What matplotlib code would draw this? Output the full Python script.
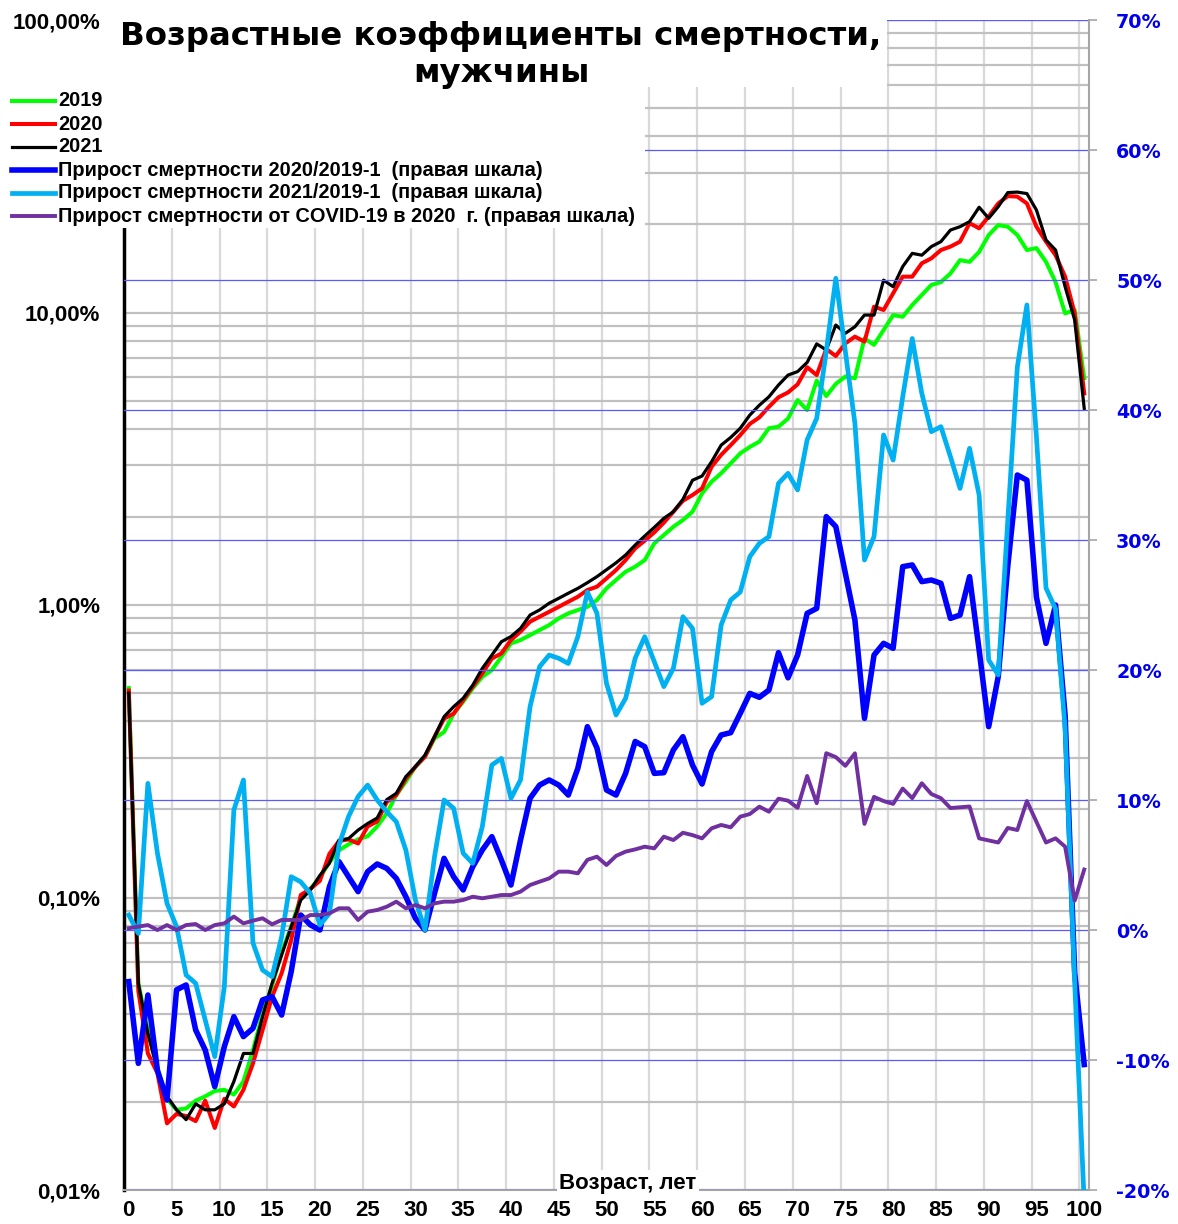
import numpy as np
import matplotlib
import matplotlib.pyplot as plt
from matplotlib.lines import Line2D
from matplotlib.patches import Rectangle
from matplotlib.ticker import LogLocator, FuncFormatter, NullFormatter

matplotlib.use('Agg')

plt.rcParams['font.family'] = ['Liberation Sans', 'DejaVu Sans']
plt.rcParams['font.weight'] = 'bold'

# Age 0..100
ages = np.arange(0, 101)

# Mortality rates, % (left log scale)
mort_2019 = [
    0.52, 0.051, 0.035, 0.026, 0.0205, 0.0188, 0.0190, 0.0202, 0.0209, 0.0218,
    0.0220, 0.0212, 0.0235, 0.0301, 0.040, 0.050, 0.065, 0.0795, 0.100, 0.107,
    0.117, 0.132, 0.145, 0.152, 0.158, 0.162, 0.175, 0.194, 0.224, 0.249,
    0.280, 0.303, 0.350, 0.368, 0.425, 0.467, 0.519, 0.568, 0.599, 0.665,
    0.739, 0.759, 0.789, 0.821, 0.854, 0.900, 0.936, 0.961, 0.986, 1.040,
    1.14, 1.218, 1.299, 1.352, 1.424, 1.624, 1.734, 1.851, 1.952, 2.084,
    2.408, 2.64, 2.82, 3.05, 3.30, 3.47, 3.62, 4.02, 4.07, 4.34,
    5.02, 4.64, 5.85, 5.18, 5.7, 6.04, 5.96, 8.16, 7.75, 8.71,
    9.80, 9.67, 10.6, 11.48, 12.42, 12.7, 13.6, 15.1, 14.9, 16.1,
    18.4, 19.9, 19.65, 18.4, 16.35, 16.6, 14.9, 12.7, 9.93, 10.2,
    5.96]

mort_2020 = [
    0.51, 0.048, 0.0293, 0.0251, 0.0169, 0.0182, 0.0179, 0.0172, 0.0202, 0.0163,
    0.0205, 0.0193, 0.022, 0.0271, 0.0352, 0.0458, 0.0551, 0.0716, 0.102, 0.107,
    0.114, 0.141, 0.156, 0.158, 0.153, 0.175, 0.182, 0.212, 0.224, 0.255,
    0.280, 0.303, 0.354, 0.409, 0.425, 0.473, 0.526, 0.583, 0.656, 0.683,
    0.759, 0.811, 0.877, 0.912, 0.948, 0.986, 1.026, 1.067, 1.125, 1.155,
    1.233, 1.317, 1.424, 1.562, 1.659, 1.771, 1.912, 2.084, 2.272, 2.376,
    2.504, 2.97, 3.26, 3.52, 3.81, 4.16, 4.38, 4.76, 5.13, 5.33,
    5.68, 6.5, 6.11, 7.5, 7.1, 7.84, 8.27, 7.95, 10.47, 10.2,
    11.63, 13.26, 13.26, 14.73, 15.32, 16.35, 16.8, 17.47, 20.2, 19.4,
    21.3, 23.6, 25.0, 24.9, 23.6, 19.65, 17.47, 15.7, 13.26, 9.93,
    5.29]

mort_2021 = [
    0.50, 0.0509, 0.0343, 0.0257, 0.0209, 0.0188, 0.0174, 0.0197, 0.0188, 0.0188,
    0.0197, 0.0235, 0.0293, 0.0293, 0.0391, 0.0509, 0.0636, 0.0795, 0.098, 0.106,
    0.119, 0.131, 0.157, 0.159, 0.170, 0.179, 0.187, 0.216, 0.227, 0.259,
    0.280, 0.307, 0.355, 0.415, 0.449, 0.480, 0.532, 0.607, 0.674, 0.749,
    0.780, 0.832, 0.924, 0.962, 1.014, 1.054, 1.097, 1.140, 1.192, 1.250,
    1.32, 1.394, 1.482, 1.603, 1.721, 1.842, 1.978, 2.084, 2.298, 2.67,
    2.76, 3.09, 3.52, 3.74, 4.02, 4.46, 4.82, 5.15, 5.65, 6.11,
    6.28, 6.75, 7.81, 7.45, 9.06, 8.49, 8.94, 9.80, 9.80, 12.9,
    12.25, 14.35, 15.93, 15.7, 16.8, 17.47, 19.14, 19.65, 20.45, 22.9,
    21.0, 23.0, 25.7, 25.8, 25.5, 22.4, 17.7, 16.35, 12.25, 9.43,
    4.70]

# Growth of mortality, % (right scale)
growth_2020 = [
    -3.97, -10.26, -5.0, -10.8, -13.08, -4.6, -4.23, -7.69, -9.23, -12.05,
    -8.97, -6.67, -8.2, -7.56, -5.38, -5.13, -6.54, -3.2, 1.15, 0.4,
    0.0, 3.33, 5.26, 4.1, 2.95, 4.49, 5.08, 4.74, 3.97, 2.56,
    0.9, 0.0, 2.82, 5.51, 4.1, 3.08, 4.87, 6.15, 7.18, 5.38,
    3.46, 6.92, 10.13, 11.15, 11.54, 11.15, 10.38, 12.44, 15.64, 14.0,
    10.77, 10.38, 12.05, 14.5, 14.1, 12.05, 12.1, 13.85, 14.87, 12.69,
    11.23, 13.72, 15.0, 15.18, 16.67, 18.2, 17.9, 18.46, 21.33, 19.4,
    21.15, 24.36, 24.74, 31.8, 31.03, 27.44, 23.85, 16.28, 21.15, 22.05,
    21.67, 27.95, 28.08, 26.8, 26.92, 26.67, 23.97, 24.23, 27.18, 21.54,
    15.64, 19.49, 28.0, 35.0, 34.6, 25.6, 22.05, 25.0, 16.5, -3.3,
    -10.35]

growth_2021 = [
    1.15, -0.26, 11.28, 5.9, 2.05, 0.26, -3.46, -4.1, -6.92, -9.74,
    -4.36, 9.23, 11.54, -1.0, -3.08, -3.59, -0.51, 4.1, 3.7, 2.82,
    0.38, 1.28, 6.54, 8.72, 10.26, 11.15, 10.0, 9.1, 8.33, 6.15,
    2.31, 0.0, 5.64, 10.0, 9.36, 5.9, 5.13, 7.95, 12.69, 13.2,
    10.13, 11.54, 17.18, 20.26, 21.15, 20.9, 20.5, 22.56, 26.0, 24.36,
    18.97, 16.54, 17.82, 20.9, 22.56, 20.64, 18.72, 20.13, 24.1, 23.2,
    17.44, 17.95, 23.46, 25.38, 26.0, 28.72, 29.74, 30.26, 34.36, 35.13,
    33.85, 37.7, 39.36, 44.5, 50.13, 44.5, 38.97, 28.46, 30.26, 38.08,
    36.15, 41.0, 45.5, 41.28, 38.33, 38.72, 36.4, 33.97, 37.05, 33.46,
    20.77, 19.62, 31.5, 43.3, 48.08, 37.95, 26.3, 24.7, 15.5, -4.0,
    -21.0]

growth_covid = [
    0.13, 0.26, 0.38, 0.0, 0.38, 0.0, 0.38, 0.46, 0.0, 0.38,
    0.51, 1.03, 0.51, 0.72, 0.9, 0.44, 0.77, 0.77, 0.77, 1.15,
    1.15, 1.28, 1.67, 1.67, 0.77, 1.41, 1.54, 1.79, 2.18, 1.67,
    1.92, 1.67, 2.05, 2.18, 2.18, 2.31, 2.56, 2.44, 2.56, 2.69,
    2.69, 2.95, 3.46, 3.72, 3.97, 4.49, 4.49, 4.36, 5.4, 5.64,
    5.0, 5.7, 6.03, 6.2, 6.41, 6.28, 7.18, 6.92, 7.48, 7.3,
    7.05, 7.82, 8.08, 7.9, 8.72, 8.92, 9.49, 9.1, 10.1, 9.95,
    9.4, 11.85, 9.75, 13.6, 13.3, 12.63, 13.59, 8.16, 10.24, 9.92,
    9.7, 10.88, 10.14, 11.29, 10.46, 10.14, 9.38, 9.44, 9.5, 7.05,
    6.89, 6.73, 7.85, 7.69, 9.92, 8.32, 6.73, 7.05, 6.41, 2.26,
    4.65]

labels = ['2019', '2020', '2021',
          'Прирост смертности 2020/2019-1  (правая шкала)',
          'Прирост смертности 2021/2019-1  (правая шкала)',
          'Прирост смертности от COVID-19 в 2020  г. (правая шкала)']
colors = ['#00ff00', '#ff0000', '#000000', '#0000ff', '#00b0f0', '#7030a0']
widths = [2.9, 2.9, 2.3, 4.0, 3.4, 2.8]

W, H = 1178, 1224


def fx(px):
    return px / W


def fy(py):
    return 1 - py / H


fig = plt.figure(figsize=(W / 100, H / 100), dpi=100)
ax = fig.add_axes([fx(124), fy(1190), (1089 - 124) / W, (1190 - 20) / H])

# left axis: mortality on log scale
ax.set_yscale('log')
ax.set_ylim(0.01, 100)
ax.set_xlim(-0.5, 100.5)
for vals, c, lw in zip([mort_2019, mort_2020, mort_2021], colors[:3], widths[:3]):
    ax.plot(ages, vals, color=c, lw=lw, solid_joinstyle='round', zorder=3)

ax.set_xticks(np.arange(0, 101, 5))
ax.set_xticks(np.arange(4.5, 100, 5), minor=True)
ax.yaxis.set_major_locator(LogLocator(base=10, numticks=10))
ax.yaxis.set_minor_locator(LogLocator(base=10, subs=np.arange(2, 10), numticks=40))
ax.yaxis.set_major_formatter(FuncFormatter(lambda v, p: f"{v:.2f}".replace('.', ',') + '%'))
ax.yaxis.set_minor_formatter(NullFormatter())
ax.xaxis.grid(True, which='minor', color='#d9d9d9', lw=1.6)
ax.yaxis.grid(True, which='both', color='#c0c0c0', lw=1.6)
ax.set_axisbelow(True)
ax.tick_params(axis='both', which='both', length=0)
ax.tick_params(axis='y', pad=17, labelsize=16)
ax.tick_params(axis='x', pad=7.5, labelsize=16)
ax.spines['top'].set_visible(False)
ax.spines['right'].set_visible(False)
ax.spines['left'].set_color('black')
ax.spines['left'].set_linewidth(2.5)
ax.spines['bottom'].set_color('#a6a6a6')
ax.spines['bottom'].set_linewidth(1.5)

# right axis: growth in %
ax2 = ax.twinx()
ax2.set_ylim(-20, 70)
ax2.set_yticks(np.arange(-20, 71, 10))
ax2.yaxis.set_major_formatter(FuncFormatter(lambda v, p: f"{int(round(v))}%"))
ax2.yaxis.grid(True, color='#5a5aff', lw=0.9)
for vals, c, lw in zip([growth_2020, growth_2021, growth_covid], colors[3:], widths[3:]):
    ax2.plot(ages, vals, color=c, lw=lw, solid_joinstyle='round', zorder=3)
for s in ['left', 'top', 'bottom']:
    ax2.spines[s].set_visible(False)
ax2.spines['right'].set_color('#a6a6a6')
ax2.spines['right'].set_linewidth(1.5)
ax2.tick_params(axis='y', length=6, width=1.2, color='#a6a6a6', pad=13.5,
                labelsize=13.8, labelcolor='#0000ee', labelfontfamily='DejaVu Sans')

# white areas under the title and the legend
fig.add_artist(Rectangle((fx(119), fy(87)), (887 - 119) / W, 87 / H,
                         transform=fig.transFigure, facecolor='white',
                         edgecolor='none', zorder=5))
fig.add_artist(Rectangle((fx(119), fy(228)), (645 - 119) / W, (228 - 87) / H,
                         transform=fig.transFigure, facecolor='white',
                         edgecolor='none', zorder=5))

fig.text(fx(501), fy(45), 'Возрастные коэффициенты смертности,', ha='center',
         va='baseline', fontsize=23.3, family='DejaVu Sans', zorder=6)
fig.text(fx(501), fy(82), 'мужчины', ha='center', va='baseline',
         fontsize=23.3, family='DejaVu Sans', zorder=6)

# legend
for i, (lab, c, lw) in enumerate(zip(labels, colors, widths)):
    yc = 101 + i * 23
    fig.add_artist(Line2D([fx(12), fx(55)], [fy(yc), fy(yc)], transform=fig.transFigure,
                          color=c, lw=lw, zorder=7))
    fig.text(fx(58), fy(yc), lab, ha='left', va='center', fontsize=14.4, zorder=7)

fig.text(fx(628), fy(1183), 'Возраст, лет', ha='center', va='center', fontsize=16,
         bbox=dict(facecolor='white', edgecolor='none', pad=2), zorder=6)

fig.savefig('out.png', dpi=100)
